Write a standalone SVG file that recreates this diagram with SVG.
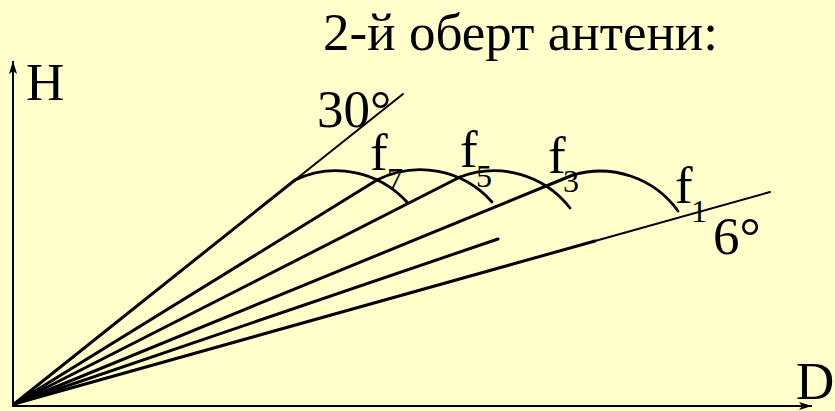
<svg xmlns="http://www.w3.org/2000/svg" width="835" height="411" viewBox="0 0 835 411">
  <style>
    text { font-family: "Liberation Serif", "DejaVu Serif", serif; fill: #000; }
    .big { font-size: 53px; }
    .sub { font-size: 32px; }
    .thick { stroke: #000; stroke-width: 3; fill: none; stroke-linecap: round; }
    .thin { stroke: #000; stroke-width: 2; fill: none; stroke-linecap: round; }
    .arc { stroke: #000; stroke-width: 2.8; fill: none; stroke-linecap: round; }
    .axis { stroke: #000; stroke-width: 2; fill: none; }
  </style>
  <defs>
    <marker id="arr" markerUnits="userSpaceOnUse" markerWidth="14" markerHeight="9" refX="13" refY="4.5" orient="auto">
      <path d="M0,0.5 L13,4.5 L0,8.5 L3,4.5 z" fill="#000"/>
    </marker>
  </defs>
  <rect width="835" height="411" fill="#FFFFCC"/>

  <g id="title">
    <text class="big" x="323" y="50" textLength="395">2-й оберт антени:</text>
  </g>

  <g id="axes">
    <path class="axis" d="M13,406 L13,61" marker-end="url(#arr)"/>
    <path class="axis" d="M12,406 L812,406" marker-end="url(#arr)"/>
    <text class="big" x="26" y="100">H</text>
    <text class="big" x="796" y="399">D</text>
  </g>

  <g id="connectors">
    <path class="thick" d="M14,404 L295,180"/>
    <path class="thin" d="M295,180 L403,94"/>
    <path class="thick" d="M14,404 L377,180"/>
    <path class="thick" d="M14,404 L460,177"/>
    <path class="thick" d="M14,404 L573,175"/>
    <path class="thick" d="M14,404 L498,239"/>
    <path class="thick" d="M14,404 L595,241"/>
    <path class="thin" d="M595,241 L770,192"/>
  </g>

  <g id="arcs">
    <path id="arc-f7" class="arc" d="M295,180 A96,96 0 0 1 407,202"/>
    <path id="arc-f5" class="arc" d="M377,180 A96,96 0 0 1 492,202"/>
    <path id="arc-f3" class="arc" d="M460,177 A96,96 0 0 1 570,208"/>
    <path id="arc-f1" class="arc" d="M573,175 A96,96 0 0 1 678,211"/>
  </g>

  <g id="labels">
    <text class="big" x="317" y="127">30°</text>
    <text class="big" x="713" y="254">6°</text>
    <g id="f7"><text class="big" x="370" y="170">f</text><text class="sub" x="387" y="190">7</text></g>
    <g id="f5"><text class="big" x="460" y="167">f</text><text class="sub" x="476" y="187">5</text></g>
    <g id="f3"><text class="big" x="548" y="173">f</text><text class="sub" x="563" y="192">3</text></g>
    <g id="f1"><text class="big" x="675" y="203">f</text><text class="sub" x="691" y="222">1</text></g>
  </g>
</svg>
